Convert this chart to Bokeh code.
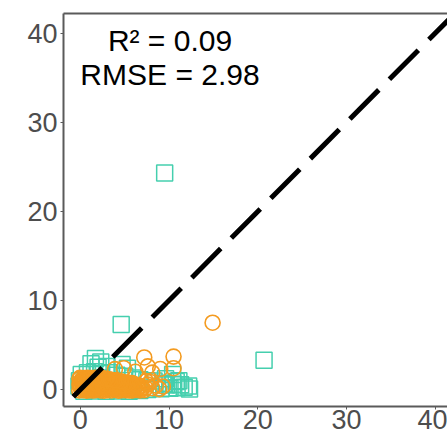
from bokeh.plotting import figure
from bokeh.models import Range1d, LinearAxis, FixedTicker, Label
from bokeh.embed import file_html
from bokeh.resources import INLINE

# Observed vs. predicted values, two groups
teal_x = [9.5, 4.6, 20.7,
          1.7, 2.3, 1.2, 4.7, 5.3, 3.0, 2.0,
          0.1, 0.8, 1.6, 2.4, 3.3, 4.1, 5.0, 5.9, 6.7, 7.5, 8.3, 10.4, 9.6, 11.1,
          -0.15, -0.1,
          0.4, 1.6, 2.9, 4.2, 5.5, 6.7, 7.6, 8.4, 9.1, 9.7, 10.1, 10.5, 10.9, 11.3,
          11.7, 12.2, 12.3, 9.4, 10.8]
teal_y = [24.3, 7.3, 3.3,
          3.5, 3.1, 2.9, 2.8, 2.4, 2.6, 2.5,
          1.7, 1.9, 2.0, 1.8, 1.9, 1.6, 1.5, 1.3, 1.1, 1.0, 0.95, 1.7, 1.2, 1.0,
          0.4, 1.0,
          -0.2, -0.15, -0.2, -0.15, -0.2, -0.1, 0.0, 0.2, 0.1, 0.5, 0.15, 0.6, 0.2, 0.55,
          0.25, 0.4, 0.05, 0.7, 0.9]

orange_x = [-0.12, 0.27, 0.69, 1.08, 1.47, 1.86, 2.29, 2.68, 3.11, 3.49, 3.92, 4.3,
            4.69, 5.1, 5.51, 5.88, 6.32, 6.74, 7.2,
            0.08, 0.49, 0.9, 1.3, 1.69, 2.1, 2.5, 2.91, 3.32, 3.7, 4.11, 4.52,
            4.9, 5.3, 5.71, 6.1, 6.52, 6.93,
            0.06, 0.45, 0.87, 1.26, 1.64, 2.07, 2.48, 2.89, 3.3, 3.71, 4.12, 4.5,
            4.92, 5.31, 5.73, 6.14, 6.53, 6.95, 7.35,
            -0.1, 0.24, 0.66, 1.05, 1.45, 1.85, 2.27, 2.68, 3.08, 3.5, 3.9, 4.31,
            4.72, 5.12, 5.52, 5.95, 6.36, 6.78,
            -0.07, 0.33, 0.71, 1.13, 1.54, 1.95, 2.37, 2.77, 3.18, 3.61, 4.02, 4.41,
            4.83, 5.24, 5.66, 6.05,
            0.14, 0.55, 0.95, 1.36, 1.76, 2.18, 2.58, 2.98, 3.4, 3.8, 4.22, 4.63,
            5.03, 5.45, 5.8,
            0.11, 0.5, 0.92, 1.35, 1.75, 2.16, 2.57, 2.99, 3.42, 3.83, 4.25, 4.58,
            -0.1, 0.3, 0.72, 1.14, 1.55, 1.96, 2.38, 2.77, 3.2, 3.6, 4.0,
            -0.04, 0.38, 0.79, 1.22, 1.63, 2.04, 2.46, 2.88, 3.22,
            7.6, 8.1, 8.5, 8.9, 7.9, 9.3, 7.4,
            14.9, 7.2, 10.5, 7.6, 10.5, 9.0, 8.1, 4.9, 6.2, 3.9]
orange_y = [-0.1, -0.06, -0.12, -0.08, -0.11, -0.05, -0.09, -0.13, -0.07, -0.1, -0.04, -0.12,
            -0.08, -0.06, -0.11, -0.09, -0.05, -0.1, -0.07,
            0.1, 0.13, 0.08, 0.12, 0.09, 0.14, 0.1, 0.07, 0.12, 0.11, 0.09, 0.13,
            0.08, 0.12, 0.1, 0.07, 0.11, 0.09,
            0.32, 0.27, 0.35, 0.29, 0.31, 0.26, 0.34, 0.3, 0.28, 0.33, 0.27, 0.31,
            0.36, 0.29, 0.25, 0.32, 0.3, 0.22, 0.18,
            0.5, 0.53, 0.48, 0.52, 0.49, 0.54, 0.51, 0.47, 0.52, 0.5, 0.49, 0.53,
            0.5, 0.46, 0.49, 0.45, 0.44, 0.4,
            0.71, 0.68, 0.74, 0.69, 0.72, 0.66, 0.73, 0.7, 0.67, 0.75, 0.71, 0.68,
            0.7, 0.66, 0.69, 0.62,
            0.9, 0.87, 0.92, 0.89, 0.91, 0.86, 0.9, 0.93, 0.88, 0.89, 0.85, 0.83,
            0.8, 0.76, 0.72,
            1.06, 1.02, 1.09, 1.04, 1.07, 1.01, 1.08, 1.05, 1.03, 1.0, 0.97, 0.93,
            1.18, 1.2, 1.17, 1.21, 1.19, 1.16, 1.2, 1.15, 1.12, 1.08, 1.04,
            1.31, 1.28, 1.33, 1.29, 1.32, 1.27, 1.3, 1.22, 1.16,
            0.55, 0.15, 0.45, 0.05, 0.85, 0.35, 0.95,
            7.5, 3.6, 3.7, 2.6, 2.4, 2.3, 1.9, 2.4, 2.0, 2.3]

# 1:1 reference line
diag = [-0.8, 43.0]

axis_ticks = [0, 10, 20, 30, 40]
stats_lines = ["R\u00b2 = 0.09", "RMSE = 2.98"]

TEAL = "#45cfae"
ORANGE = "#f49b20"
AXIS_GREY = "#5a5a5a"
TEXT_GREY = "#4d4d4d"
FONT = "Liberation Sans"

p = figure(width=447, height=434, output_backend="svg", toolbar_location=None,
           x_range=Range1d(-1.9, 41.37), y_range=Range1d(-1.9, 42.2),
           min_border_left=63, min_border_right=0, min_border_top=13,
           min_border_bottom=28)

p.background_fill_color = "white"
p.border_fill_color = "white"
p.outline_line_color = None
p.xgrid.visible = False
p.ygrid.visible = False

for ax in (p.xaxis[0], p.yaxis[0]):
    ax.ticker = FixedTicker(ticks=axis_ticks)
    ax.axis_line_color = AXIS_GREY
    ax.axis_line_width = 2
    ax.major_tick_line_color = AXIS_GREY
    ax.major_tick_line_width = 1
    ax.major_tick_out = 3
    ax.major_tick_in = 0
    ax.minor_tick_line_color = None
    ax.major_label_text_font = FONT
    ax.major_label_text_font_size = "27px"
    ax.major_label_text_color = TEXT_GREY
p.xaxis[0].major_label_standoff = 0
p.yaxis[0].major_label_standoff = 3

# plain top border
top = LinearAxis(ticker=FixedTicker(ticks=[]), axis_line_color=AXIS_GREY,
                 axis_line_width=2, major_tick_line_color=None,
                 minor_tick_line_color=None, major_label_text_font_size="0px")
p.add_layout(top, "above")

p.scatter(teal_x, teal_y, marker="square", size=16, fill_color=None,
          line_color=TEAL, line_width=1.5)
p.scatter(orange_x, orange_y, marker="circle", size=15, fill_color=None,
          line_color=ORANGE, line_width=1.6)

p.line(diag, diag, line_color="black", line_width=5, line_dash="41 15",
       line_cap="butt")

for txt, yv in zip(stats_lines, [39.2, 35.3]):
    p.add_layout(Label(x=10.1, y=yv, text=txt, text_align="center",
                       text_baseline="alphabetic", text_font=FONT,
                       text_font_size="30px", text_color="black"))

open("out.html", "w").write(file_html(p, INLINE))
